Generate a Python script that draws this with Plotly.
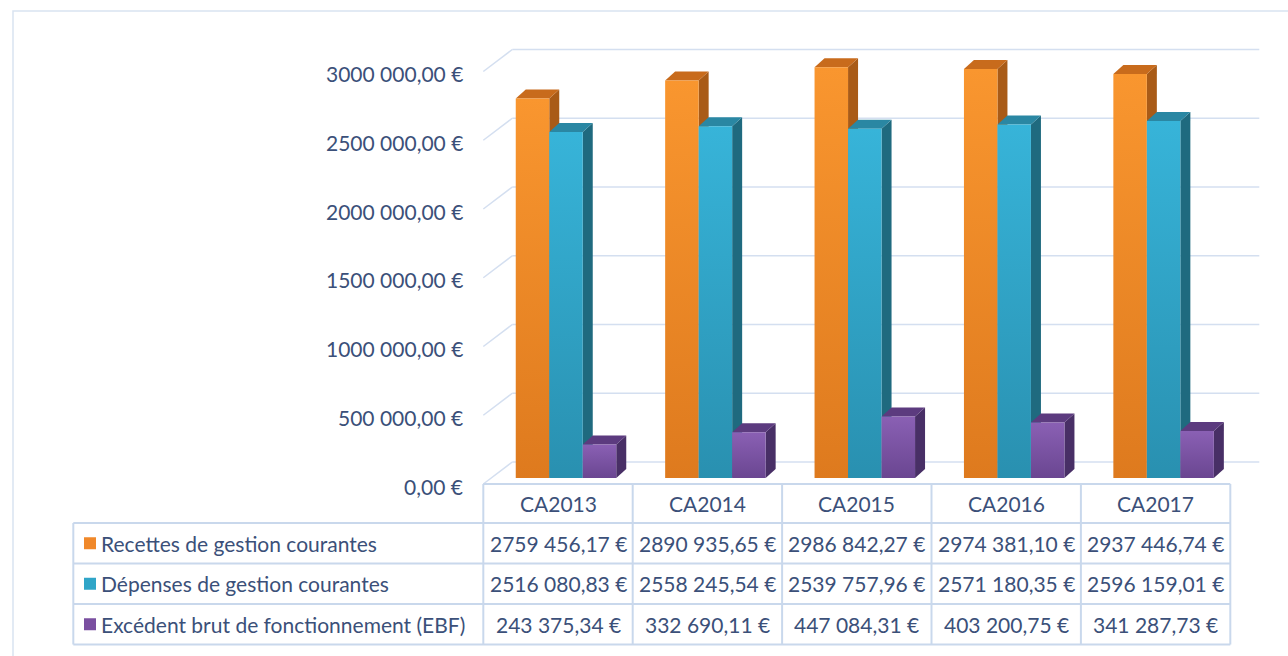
import plotly.graph_objects as go

# ---------------- data ----------------
categories = ["CA2013", "CA2014", "CA2015", "CA2016", "CA2017"]
series_names = [
    "Recettes de gestion courantes",
    "Dépenses de gestion courantes",
    "Excédent brut de fonctionnement (EBF)",
]
recettes = [2759456.17, 2890935.65, 2986842.27, 2974381.10, 2937446.74]
depenses = [2516080.83, 2558245.54, 2539757.96, 2571180.35, 2596159.01]
ebf = [243375.34, 332690.11, 447084.31, 403200.75, 341287.73]
y_ticks = [0, 500000, 1000000, 1500000, 2000000, 2500000, 3000000]

series_values = [recettes, depenses, ebf]

# ---------------- styles ----------------
front_bottom = ["#de7a1e", "#2990b0", "#6a4691"]
front_top = ["#f9962f", "#37b4d9", "#8a60b4"]
top_colors = ["#c86b1c", "#2a87a3", "#5c3b7f"]
side_colors = ["#a95b17", "#1f6a7f", "#482f66"]
key_colors = ["#f0882a", "#2fa5c8", "#7a4fa0"]
text_color = "#3b5079"
grid_color = "#d4dff0"
border_color = "#c9d8ec"
FONT = "Lato"
FS = 21

W, H = 1288, 656
X0 = 558.0      # pixel x of the first category centre
COL = 149.4     # pixel width of one category
Y0 = 484.0      # pixel y of value 0 on the front plane
PXM = 137.5e-6  # pixels per unit of value


def ux(px):
    return px / COL


def uy(px):
    return px / PXM


def paper_x(px):
    return px / W


def paper_y(py):
    return 1 - py / H


def fmt(v):
    s = f"{v:.2f}"
    ip, dp = s.split(".")
    if len(ip) > 3:
        ip = ip[:-3] + " " + ip[-3:]
    return f"{ip},{dp} €"


fig = go.Figure()

# depth offsets (pixels): bars front / back, wall back
BF_DX, BF_DY = 8, 6
BB_DX, BB_DY = 18, 15
WB_DX, WB_DY = 29, 22
BAR_W = 33.5
CLUSTER = 3 * BAR_W

n = len(categories)

# side and top faces first, then the front faces
for i in range(n):
    for s, vals in enumerate(series_values):
        v = vals[i]
        xl = i + ux(-CLUSTER / 2 + s * BAR_W)
        xr = xl + ux(BAR_W)
        f_dx, f_dy = ux(BF_DX), uy(BF_DY)
        b_dx, b_dy = ux(BB_DX), uy(BB_DY)
        # side face
        fig.add_trace(go.Scatter(
            x=[xr + f_dx, xr + f_dx, xr + b_dx, xr + b_dx, xr + f_dx],
            y=[f_dy, v + f_dy, v + b_dy, b_dy, f_dy],
            fill="toself", fillcolor=side_colors[s], mode="lines",
            line=dict(width=0), hoverinfo="skip", showlegend=False))
        # top face
        fig.add_trace(go.Scatter(
            x=[xl + f_dx, xr + f_dx, xr + b_dx, xl + b_dx, xl + f_dx],
            y=[v + f_dy, v + f_dy, v + b_dy, v + b_dy, v + f_dy],
            fill="toself", fillcolor=top_colors[s], mode="lines",
            line=dict(width=0), hoverinfo="skip", showlegend=False))

for i in range(n):
    for s, vals in enumerate(series_values):
        v = vals[i]
        xl = i + ux(-CLUSTER / 2 + s * BAR_W)
        xr = xl + ux(BAR_W)
        f_dx, f_dy = ux(BF_DX), uy(BF_DY)
        fig.add_trace(go.Scatter(
            x=[xl + f_dx, xr + f_dx, xr + f_dx, xl + f_dx, xl + f_dx],
            y=[f_dy, f_dy, v + f_dy, v + f_dy, f_dy],
            fill="toself",
            fillcolor=front_top[s],
            fillgradient=dict(type="vertical",
                              colorscale=[[0, front_bottom[s]], [1, front_top[s]]]),
            mode="lines", line=dict(width=0),
            name=series_names[s], hoverinfo="skip", showlegend=False))

shapes = []
x_left_front = -0.5
x_right_front = n - 0.5
# gridlines on back wall + left wall diagonals
for t in y_ticks:
    shapes.append(dict(type="line", xref="x", yref="y", layer="below",
                       x0=x_left_front + ux(WB_DX), x1=x_right_front + ux(WB_DX),
                       y0=t + uy(WB_DY), y1=t + uy(WB_DY),
                       line=dict(color=grid_color, width=1.5)))
    shapes.append(dict(type="line", xref="x", yref="y", layer="below",
                       x0=x_left_front, x1=x_left_front + ux(WB_DX),
                       y0=t, y1=t + uy(WB_DY),
                       line=dict(color=grid_color, width=1.5)))

# outer frame
shapes.append(dict(type="rect", xref="paper", yref="paper",
                   x0=paper_x(13), x1=paper_x(1300), y0=paper_y(700), y1=paper_y(11),
                   line=dict(color="#d9e3f1", width=1.5), layer="below"))

# data table
row_tops = [484, 523, 563.5, 604, 644.5]
left_col_x = -0.5 - (483 - 73) / COL
for k, ry in enumerate(row_tops):
    shapes.append(dict(type="line", xref="x", yref="paper",
                       x0=(x_left_front if k == 0 else left_col_x),
                       x1=x_right_front, y0=paper_y(ry), y1=paper_y(ry),
                       line=dict(color=border_color, width=2)))
for c in range(n + 1):
    shapes.append(dict(type="line", xref="x", yref="paper",
                       x0=c - 0.5, x1=c - 0.5, y0=paper_y(row_tops[0]), y1=paper_y(row_tops[-1]),
                       line=dict(color=border_color, width=2)))
shapes.append(dict(type="line", xref="x", yref="paper",
                   x0=left_col_x, x1=left_col_x,
                   y0=paper_y(row_tops[1]), y1=paper_y(row_tops[-1]),
                   line=dict(color=border_color, width=2)))

annotations = []
# y axis labels
for t in y_ticks:
    annotations.append(dict(xref="paper", yref="y", x=paper_x(465), y=t, yshift=-2,
                            text=fmt(t), showarrow=False, xanchor="right", yanchor="middle",
                            font=dict(family=FONT, size=FS, color=text_color)))
# header row
for i, c in enumerate(categories):
    annotations.append(dict(xref="x", yref="paper", x=i,
                            y=paper_y((row_tops[0] + row_tops[1]) / 2),
                            text=c, showarrow=False, xanchor="center", yanchor="middle",
                            font=dict(family=FONT, size=FS, color=text_color)))
# body rows
for s, vals in enumerate(series_values):
    cy = (row_tops[s + 1] + row_tops[s + 2]) / 2
    shapes.append(dict(type="rect", xref="paper", yref="paper",
                       x0=paper_x(84), x1=paper_x(96), y0=paper_y(cy + 6), y1=paper_y(cy - 6),
                       fillcolor=key_colors[s], line=dict(width=0)))
    annotations.append(dict(xref="paper", yref="paper", x=paper_x(99), y=paper_y(cy),
                            text=series_names[s], showarrow=False, xanchor="left",
                            yanchor="middle",
                            font=dict(family=FONT, size=FS, color=text_color)))
    for i, v in enumerate(vals):
        annotations.append(dict(xref="x", yref="paper", x=i, y=paper_y(cy),
                                text=fmt(v), showarrow=False, xanchor="center",
                                yanchor="middle",
                                font=dict(family=FONT, size=FS, color=text_color)))

fig.update_layout(
    width=W, height=H,
    margin=dict(l=0, r=0, t=0, b=0),
    paper_bgcolor="white", plot_bgcolor="white",
    xaxis=dict(visible=False, range=[-X0 / COL, (W - X0) / COL], fixedrange=True),
    yaxis=dict(visible=False, range=[(Y0 - H) / PXM, Y0 / PXM], fixedrange=True),
    shapes=shapes, annotations=annotations,
    showlegend=False,
)

fig.write_html("out.html", config={"displayModeBar": False},
               post_script="document.body.style.margin='0';")
